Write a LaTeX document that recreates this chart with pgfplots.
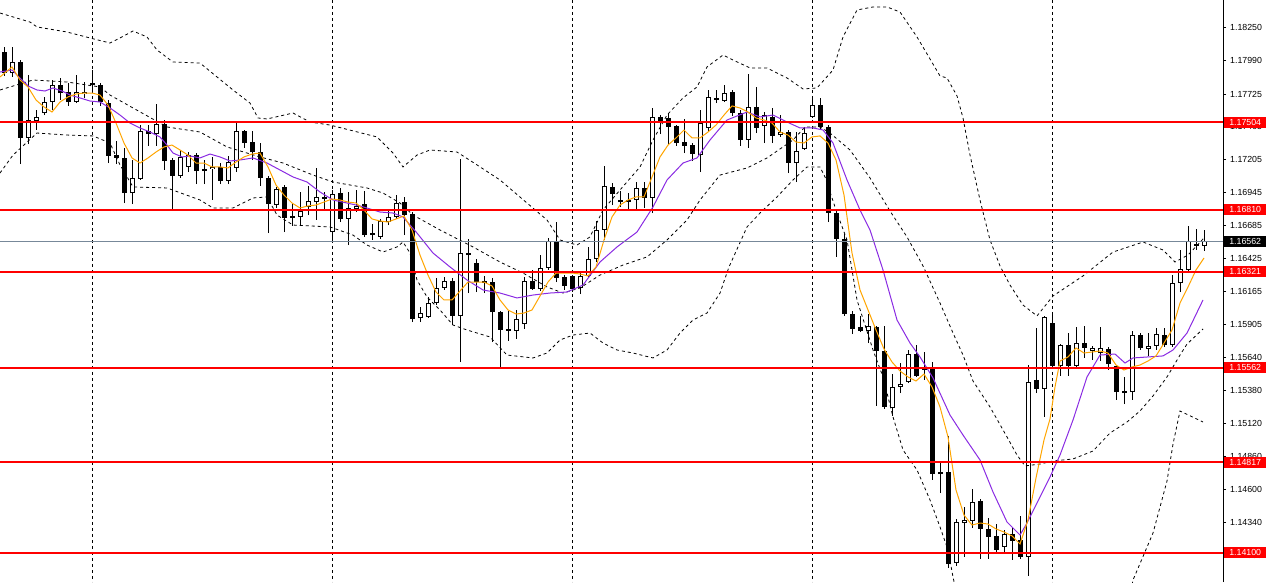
\documentclass[border=0pt]{standalone}
\usepackage{fontspec}
\setmainfont{Liberation Sans}
\usepackage{pgfplots}
\usepackage{pgfplotstable}
\pgfplotsset{compat=1.18}
\definecolor{maorange}{RGB}{255,165,0}
\definecolor{mapurple}{RGB}{138,43,226}
\definecolor{bidgray}{RGB}{119,136,153}
\definecolor{lvlred}{RGB}{255,0,0}

\pgfplotstableread{
x o h l c
1 1.17891 1.18097 1.17860 1.17978
3 1.17378 1.17875 1.17330 1.17520
4 1.17512 1.17599 1.17441 1.17544
5 1.17575 1.17702 1.17559 1.17662
6 1.17662 1.17836 1.17599 1.17796
9 1.17662 1.17875 1.17654 1.17741
10 1.17725 1.17820 1.17694 1.17741
16 1.16943 1.17204 1.16856 1.17062
17 1.17054 1.17480 1.17046 1.17433
19 1.17409 1.17646 1.17315 1.17488
22 1.17078 1.17283 1.17062 1.17228
23 1.17149 1.17267 1.17109 1.17243
26 1.17133 1.17228 1.16888 1.17149
28 1.17038 1.17236 1.17014 1.17188
29 1.17141 1.17496 1.17109 1.17433
34 1.16848 1.16991 1.16825 1.16975
37 1.16754 1.16951 1.16690 1.16801
38 1.16833 1.16999 1.16769 1.16880
39 1.16872 1.17141 1.16730 1.16912
41 1.16635 1.16967 1.16572 1.16935
43 1.16738 1.16951 1.16532 1.16825
44 1.16817 1.16967 1.16793 1.16841
47 1.16596 1.16738 1.16580 1.16722
48 1.16714 1.16801 1.16690 1.16754
49 1.16754 1.16927 1.16738 1.16864
52 1.15956 1.16043 1.15924 1.15995
53 1.15964 1.16122 1.15956 1.16074
54 1.16074 1.16272 1.16058 1.16193
55 1.16193 1.16280 1.16177 1.16248
57 1.15972 1.17212 1.15608 1.16469
64 1.15853 1.16019 1.15790 1.15948
65 1.15908 1.16280 1.15869 1.16248
67 1.16185 1.16453 1.16169 1.16351
68 1.16351 1.16588 1.16335 1.16564
72 1.16193 1.16327 1.16145 1.16288
73 1.16288 1.16517 1.16272 1.16422
74 1.16422 1.16722 1.16398 1.16651
75 1.16651 1.17157 1.16572 1.16999
79 1.16888 1.17030 1.16817 1.16983
81 1.16904 1.17615 1.16785 1.17544
87 1.17243 1.17599 1.17109 1.17496
88 1.17457 1.17757 1.17433 1.17702
90 1.17670 1.17796 1.17662 1.17733
93 1.17362 1.17883 1.17299 1.17623
95 1.17473 1.17583 1.17338 1.17559
97 1.17401 1.17559 1.17386 1.17425
99 1.17180 1.17425 1.17030 1.17275
100 1.17291 1.17465 1.17283 1.17417
101 1.17544 1.17694 1.17536 1.17638
108 1.15853 1.15987 1.15758 1.15893
111 1.15245 1.15513 1.15182 1.15411
112 1.15411 1.15600 1.15363 1.15434
113 1.15450 1.15703 1.15442 1.15671
119 1.14020 1.14368 1.13997 1.14344
120 1.14336 1.14463 1.14068 1.14360
121 1.14352 1.14605 1.14297 1.14502
125 1.14147 1.14281 1.14099 1.14249
128 1.14068 1.15584 1.13918 1.15450
130 1.15395 1.15972 1.15174 1.15964
132 1.15577 1.15750 1.15498 1.15742
134 1.15577 1.15885 1.15553 1.15758
136 1.15695 1.15735 1.15624 1.15719
137 1.15679 1.15885 1.15616 1.15719
141 1.15371 1.15853 1.15308 1.15821
143 1.15711 1.15837 1.15656 1.15735
144 1.15735 1.15877 1.15703 1.15829
146 1.15742 1.16295 1.15727 1.16232
147 1.16232 1.16493 1.16161 1.16343
148 1.16335 1.16683 1.16311 1.16564
150 1.16525 1.16651 1.16485 1.16562
}\bull

\pgfplotstableread{
x o h l c
0 1.18057 1.18097 1.17868 1.17891
2 1.17978 1.17994 1.17172 1.17378
7 1.17796 1.17852 1.17678 1.17733
8 1.17741 1.17812 1.17631 1.17662
11 1.17812 1.17915 1.17757 1.17796
12 1.17796 1.17812 1.17631 1.17662
13 1.17654 1.17678 1.17180 1.17236
14 1.17243 1.17354 1.17172 1.17220
15 1.17220 1.17299 1.16864 1.16943
18 1.17433 1.17480 1.17315 1.17409
20 1.17488 1.17520 1.17125 1.17196
21 1.17204 1.17220 1.16809 1.17078
24 1.17243 1.17259 1.17014 1.17117
25 1.17133 1.17204 1.17014 1.17117
27 1.17149 1.17180 1.17014 1.17038
30 1.17433 1.17441 1.17299 1.17338
31 1.17346 1.17433 1.17204 1.17267
32 1.17267 1.17338 1.16999 1.17062
33 1.17062 1.17078 1.16627 1.16856
35 1.16991 1.17006 1.16635 1.16746
36 1.16762 1.16856 1.16683 1.16746
40 1.16912 1.16951 1.16809 1.16896
42 1.16943 1.16983 1.16714 1.16738
45 1.16856 1.16959 1.16596 1.16611
46 1.16627 1.16698 1.16572 1.16611
50 1.16872 1.16912 1.16611 1.16769
51 1.16777 1.16793 1.15924 1.15948
56 1.16248 1.16272 1.15900 1.15972
58 1.16469 1.16580 1.16153 1.16453
59 1.16390 1.16422 1.16161 1.16240
60 1.16248 1.16288 1.16153 1.16232
61 1.16240 1.16272 1.15766 1.16003
62 1.16003 1.16011 1.15569 1.15861
63 1.15869 1.16011 1.15774 1.15853
66 1.16248 1.16335 1.16177 1.16185
69 1.16556 1.16714 1.16240 1.16272
70 1.16280 1.16295 1.16177 1.16209
71 1.16288 1.16295 1.16161 1.16185
76 1.16991 1.17022 1.16848 1.16935
77 1.16888 1.16959 1.16833 1.16872
78 1.16888 1.16943 1.16809 1.16872
80 1.16983 1.17030 1.16825 1.16904
82 1.17544 1.17559 1.17409 1.17512
83 1.17536 1.17567 1.17322 1.17465
84 1.17473 1.17480 1.17315 1.17338
85 1.17346 1.17528 1.17259 1.17315
86 1.17322 1.17338 1.17196 1.17251
89 1.17694 1.17757 1.17654 1.17678
91 1.17741 1.17757 1.17552 1.17575
92 1.17575 1.17599 1.17315 1.17362
94 1.17623 1.17781 1.17417 1.17457
96 1.17544 1.17615 1.17338 1.17394
98 1.17425 1.17441 1.17101 1.17180
102 1.17638 1.17694 1.17449 1.17465
103 1.17465 1.17480 1.16714 1.16785
104 1.16785 1.16809 1.16438 1.16580
105 1.16580 1.16619 1.15972 1.15987
106 1.15987 1.16011 1.15829 1.15869
107 1.15885 1.15972 1.15845 1.15853
109 1.15885 1.15893 1.15261 1.15695
110 1.15695 1.15893 1.15237 1.15253
114 1.15671 1.15742 1.15490 1.15498
115 1.15561 1.15687 1.15466 1.15545
116 1.15569 1.15608 1.14676 1.14723
117 1.14739 1.14810 1.14573 1.14723
118 1.14739 1.15024 1.13981 1.14012
122 1.14510 1.14526 1.14052 1.14289
123 1.14289 1.14376 1.14052 1.14226
124 1.14234 1.14328 1.14099 1.14123
126 1.14249 1.14305 1.14044 1.14194
127 1.14202 1.14392 1.14052 1.14068
129 1.15466 1.15877 1.15363 1.15395
131 1.15916 1.15979 1.15561 1.15577
133 1.15742 1.15837 1.15498 1.15577
135 1.15758 1.15893 1.15640 1.15719
138 1.15711 1.15727 1.15545 1.15592
139 1.15577 1.15584 1.15308 1.15371
140 1.15379 1.15490 1.15276 1.15363
142 1.15821 1.15837 1.15703 1.15719
145 1.15821 1.15877 1.15727 1.15742
149 1.16540 1.16659 1.16493 1.16525
}\bear

\pgfplotstableread{
x y
-0.5 1.17860
1 1.17939
2 1.17836
3 1.17781
4 1.17678
5 1.17623
6 1.17583
7 1.17662
8 1.17702
9 1.17725
10 1.17733
11 1.17733
12 1.17717
13 1.17638
14 1.17496
15 1.17338
16 1.17220
17 1.17180
18 1.17220
19 1.17267
20 1.17307
21 1.17322
22 1.17283
23 1.17243
24 1.17180
25 1.17180
26 1.17149
27 1.17149
28 1.17141
29 1.17188
30 1.17228
31 1.17251
32 1.17259
33 1.17149
34 1.17006
35 1.16927
36 1.16864
37 1.16825
38 1.16841
39 1.16848
40 1.16872
41 1.16896
42 1.16888
43 1.16872
44 1.16864
45 1.16809
46 1.16738
47 1.16722
48 1.16714
49 1.16738
50 1.16762
51 1.16651
52 1.16453
53 1.16295
54 1.16161
55 1.16098
56 1.16098
57 1.16169
58 1.16240
59 1.16240
60 1.16240
61 1.16209
62 1.16098
63 1.16019
64 1.15987
65 1.15995
66 1.16019
67 1.16130
68 1.16240
69 1.16311
70 1.16311
71 1.16311
72 1.16303
73 1.16288
74 1.16359
75 1.16572
76 1.16754
77 1.16848
78 1.16888
79 1.16912
80 1.16912
81 1.17070
82 1.17228
83 1.17322
84 1.17378
85 1.17441
86 1.17378
87 1.17378
88 1.17425
89 1.17480
90 1.17559
91 1.17631
92 1.17615
93 1.17583
94 1.17536
95 1.17520
96 1.17496
97 1.17425
98 1.17401
99 1.17346
100 1.17338
101 1.17386
102 1.17394
103 1.17338
104 1.17204
105 1.16927
106 1.16469
107 1.16177
108 1.16019
109 1.15861
110 1.15711
111 1.15608
112 1.15537
113 1.15490
114 1.15458
115 1.15513
116 1.15411
117 1.15253
118 1.15016
119 1.14597
120 1.14399
121 1.14320
122 1.14336
123 1.14328
124 1.14289
125 1.14265
126 1.14234
127 1.14170
128 1.14360
129 1.14692
130 1.14992
130.75 1.15158
131.375 1.15411
132 1.15616
133 1.15648
134 1.15719
135 1.15679
136 1.15687
137 1.15695
138 1.15679
139 1.15584
140 1.15545
141 1.15569
142 1.15584
143 1.15616
144 1.15656
145 1.15758
146 1.15861
147 1.16074
148 1.16201
149 1.16335
150 1.16430
}\fastma

\pgfplotstableread{
x y
-0.5 1.17899
1 1.17915
2 1.17852
3 1.17789
4.125 1.17757
5.125 1.17749
6.125 1.17773
7.25 1.17749
8.25 1.17717
9.5 1.17694
10.75 1.17670
12 1.17662
13.25 1.17615
14.5 1.17559
15.75 1.17496
17 1.17457
18.25 1.17425
19.5 1.17386
20.375 1.17322
21.125 1.17259
22.25 1.17228
23.25 1.17236
24.5 1.17220
25.75 1.17251
27 1.17228
28.25 1.17196
29.5 1.17204
31.125 1.17220
32.875 1.17180
34.5 1.17125
36.125 1.17070
37.875 1.17030
39.5 1.16951
41.125 1.16888
42.875 1.16864
44.5 1.16841
47 1.16793
48.625 1.16785
49.875 1.16754
51.625 1.16627
53.625 1.16469
55.75 1.16359
57.875 1.16256
59.875 1.16177
62 1.16153
64.125 1.16114
66.125 1.16137
68.25 1.16153
70.375 1.16161
72.375 1.16216
74.5 1.16398
76.625 1.16517
79.125 1.16635
81.125 1.16833
82.875 1.17046
84.875 1.17180
86.625 1.17220
88.25 1.17362
90.375 1.17520
92.875 1.17583
94.5 1.17544
96.125 1.17559
97.875 1.17504
99.5 1.17457
101.125 1.17457
102.375 1.17441
103.625 1.17338
105.375 1.17046
107 1.16809
108.25 1.16651
109.875 1.16335
111.625 1.15940
113.25 1.15758
114.5 1.15648
116.125 1.15482
118.25 1.15189
119.875 1.15031
122 1.14834
123.625 1.14581
125.375 1.14344
127 1.14241
127.875 1.14336
129.125 1.14494
130.75 1.14700
132 1.14873
133.625 1.15150
135.375 1.15490
137 1.15663
138.875 1.15671
140.125 1.15600
141.125 1.15640
144.875 1.15656
146.125 1.15703
147.875 1.15837
149.875 1.16098
}\slowma

\pgfplotstableread{
x y
-0.5 1.18365
3.25 1.18294
4.125 1.18255
7.875 1.18215
10.75 1.18168
13.25 1.18128
14.5 1.18168
16.125 1.18223
17.875 1.18176
19.125 1.18073
21.125 1.17978
24.5 1.17970
26.625 1.17860
28.625 1.17757
30.75 1.17654
31.75 1.17536
32.875 1.17528
36.125 1.17575
38.25 1.17504
40.75 1.17480
46.625 1.17386
48.625 1.17259
49.875 1.17149
51.625 1.17243
53.25 1.17283
56.625 1.17267
59.125 1.17165
62 1.17046
65.375 1.16864
67.875 1.16730
69.5 1.16572
71.625 1.16532
73.25 1.16596
74.875 1.16809
77 1.16967
79.5 1.17149
81.125 1.17362
82.875 1.17559
84.875 1.17694
86.625 1.17781
87.875 1.17939
89.875 1.18033
91.125 1.17994
93.25 1.17931
95.375 1.17931
97.875 1.17852
99.875 1.17765
101.625 1.17773
103.625 1.17915
104.875 1.18176
106.625 1.18389
108.625 1.18413
110.375 1.18413
112 1.18373
114.125 1.18176
115.75 1.18002
117 1.17868
117.875 1.17852
119.125 1.17710
119.875 1.17536
120.75 1.17243
122 1.16888
123.25 1.16572
124.5 1.16367
125.75 1.16216
127.375 1.16058
129.125 1.15972
131.125 1.16130
134.875 1.16288
138.625 1.16477
142.375 1.16556
144.875 1.16493
146.375 1.16398
148 1.16453
150 1.16588
}\bbup

\pgfplotstableread{
x y
-0.5 1.17757
3.625 1.17836
7.875 1.17820
12 1.17781
13.25 1.17717
16.125 1.17615
20.375 1.17465
24.5 1.17425
27.875 1.17307
32 1.17228
34.875 1.17180
38.625 1.17085
41.125 1.17030
45.375 1.16983
47.375 1.16943
49.5 1.16864
51.125 1.16769
54.5 1.16651
58.625 1.16517
62 1.16398
64.875 1.16311
67.875 1.16201
69.875 1.16153
72 1.16193
74.5 1.16295
77.375 1.16374
80.375 1.16438
82.875 1.16572
85.375 1.16730
87 1.16888
89.5 1.17085
92.875 1.17141
95.375 1.17220
98.625 1.17362
100.125 1.17465
102 1.17465
103.25 1.17417
105.75 1.17283
108.25 1.17062
110.75 1.16801
112.875 1.16596
114.875 1.16367
117 1.16074
118.625 1.15837
119.875 1.15663
121.125 1.15458
123.25 1.15253
125.375 1.15016
126.625 1.14873
127.625 1.14787
129.5 1.14802
131.125 1.14826
133.625 1.14842
136.125 1.14905
138.25 1.15047
140.375 1.15134
142 1.15221
143.625 1.15340
145.375 1.15490
147 1.15663
147.875 1.15750
149.875 1.15869
}\bbmid

\pgfplotstableread{
x y
-0.5 1.17101
1.125 1.17243
4.125 1.17417
7.875 1.17401
11.125 1.17394
13.25 1.17338
14.5 1.17165
16.125 1.16991
20.375 1.16983
24.5 1.16888
26.125 1.16825
28.625 1.16825
31.125 1.16904
32.875 1.16912
34.125 1.16769
36.125 1.16690
40.75 1.16675
43.625 1.16611
45.375 1.16532
47.375 1.16477
49.125 1.16517
49.875 1.16556
50.75 1.16469
51.625 1.16256
52.875 1.16122
54.5 1.16019
56.125 1.15900
57.875 1.15861
60.75 1.15806
62.875 1.15663
66.125 1.15640
67.875 1.15679
69.5 1.15782
71.125 1.15821
73.25 1.15837
74.875 1.15758
76.625 1.15703
78.625 1.15679
81.125 1.15640
82.875 1.15703
84.5 1.15837
86.125 1.15940
87.875 1.15995
89.5 1.16153
90.625 1.16359
92.875 1.16675
94.5 1.16785
96.625 1.16912
98.625 1.17046
100.375 1.17149
102 1.17149
102.625 1.17070
104.125 1.16785
105.375 1.16572
106.625 1.16098
108.625 1.15703
109.875 1.15490
111.125 1.15174
112.375 1.14913
114.125 1.14755
115.75 1.14518
117 1.14305
118 1.14123
118.625 1.13910
119.25 1.13728
}\bblow

\pgfplotstableread{
x y
140.125 1.13570
141.125 1.13886
143.625 1.14257
145.375 1.14668
146.125 1.14960
147 1.15221
149.875 1.15134
}\bblowb

\begin{document}
\begin{tikzpicture}
\useasboundingbox (0,0) rectangle (1269pt,582pt);
\begin{axis}[
  at={(0pt,0pt)}, anchor=south west,
  scale only axis, width=1223pt, height=582pt,
  xmin=-0.5, xmax=152.375, ymin=1.13870, ymax=1.18468,
  axis x line=none, axis y line=right,
  y axis line style={-, black, line width=1pt},
  ytick={1.14080,1.14340,1.14600,1.14860,1.15120,1.15380,1.15640,1.15905,1.16165,1.16425,1.16685,1.16945,1.17205,1.17465,1.17725,1.17990,1.18250},
  yticklabels={1.14080,1.14340,1.14600,1.14860,1.15120,1.15380,1.15640,1.15905,1.16165,1.16425,1.16685,1.16945,1.17205,1.17465,1.17725,1.17990,1.18250},
  tick align=outside, major tick length=3pt,
  ytick style={black, line width=1pt},
  yticklabel style={font=\fontsize{8.8}{10}\selectfont, anchor=west, inner sep=0pt, xshift=4pt},
  clip=true,
]
% vertical period separators
\addplot[black, line width=1pt, dash pattern=on 3pt off 3pt] coordinates {(11,1.18468) (11,1.13870)};
\addplot[black, line width=1pt, dash pattern=on 3pt off 3pt] coordinates {(41,1.18468) (41,1.13870)};
\addplot[black, line width=1pt, dash pattern=on 3pt off 3pt] coordinates {(71,1.18468) (71,1.13870)};
\addplot[black, line width=1pt, dash pattern=on 3pt off 3pt] coordinates {(101,1.18468) (101,1.13870)};
\addplot[black, line width=1pt, dash pattern=on 3pt off 3pt] coordinates {(131,1.18468) (131,1.13870)};

% wicks
\addplot[draw=none, mark=none, error bars/.cd, y dir=plus, y explicit, error mark=none,
  error bar style={draw=black, line width=1pt}]
  table[x=x, y=l, y error expr=\thisrow{h}-\thisrow{l}] {\bull};
\addplot[draw=none, mark=none, error bars/.cd, y dir=plus, y explicit, error mark=none,
  error bar style={draw=black, line width=1pt}]
  table[x=x, y=l, y error expr=\thisrow{h}-\thisrow{l}] {\bear};
% bodies
\addplot[draw=none, mark=none, error bars/.cd, y dir=plus, y explicit, error mark=none,
  error bar style={draw=black, line width=5pt}]
  table[x=x, y=c, y error expr=\thisrow{o}-\thisrow{c}] {\bear};
\addplot[draw=none, mark=none, error bars/.cd, y dir=plus, y explicit, error mark=none,
  error bar style={draw=black, line width=5pt}]
  table[x=x, y=o, y error expr=\thisrow{c}-\thisrow{o}] {\bull};
\addplot[draw=none, mark=none, error bars/.cd, y dir=plus, y explicit, error mark=none,
  error bar style={draw=white, line width=3pt, shorten <=1pt, shorten >=1pt}]
  table[x=x, y=o, y error expr=\thisrow{c}-\thisrow{o}] {\bull};

% bands
\addplot[black, line width=0.8pt, dash pattern=on 3pt off 3pt] table {\bbup};
\addplot[black, line width=0.8pt, dash pattern=on 3pt off 3pt] table {\bbmid};
\addplot[black, line width=0.8pt, dash pattern=on 3pt off 3pt] table {\bblow};
\addplot[black, line width=0.8pt, dash pattern=on 3pt off 3pt] table {\bblowb};
% moving averages
\addplot[mapurple, line width=1pt] table {\slowma};
\addplot[maorange, line width=1pt] table {\fastma};

% levels
\addplot[bidgray, line width=1pt] coordinates {(-0.5,1.16562) (152.375,1.16562)};
\addplot[lvlred, line width=2pt] coordinates {(-0.5,1.17504) (152.375,1.17504)};
\addplot[lvlred, line width=2pt] coordinates {(-0.5,1.16810) (152.375,1.16810)};
\addplot[lvlred, line width=2pt] coordinates {(-0.5,1.16321) (152.375,1.16321)};
\addplot[lvlred, line width=2pt] coordinates {(-0.5,1.15562) (152.375,1.15562)};
\addplot[lvlred, line width=2pt] coordinates {(-0.5,1.14817) (152.375,1.14817)};
\addplot[lvlred, line width=2pt] coordinates {(-0.5,1.14100) (152.375,1.14100)};

\coordinate (Ra) at (axis cs:152.375,1.17504);
\coordinate (Rb) at (axis cs:152.375,1.16810);
\coordinate (Rc) at (axis cs:152.375,1.16321);
\coordinate (Rd) at (axis cs:152.375,1.15562);
\coordinate (Re) at (axis cs:152.375,1.14817);
\coordinate (Rf) at (axis cs:152.375,1.14100);
\coordinate (Rg) at (axis cs:152.375,1.16562);
\end{axis}
\tikzset{pricebox/.style={anchor=west, text=white, inner sep=0pt, minimum width=42pt, minimum height=11pt, font=\fontsize{8.8}{10}\selectfont}}
\node[pricebox, fill=lvlred] at ([xshift=1pt]Ra) {1.17504};
\node[pricebox, fill=lvlred] at ([xshift=1pt]Rb) {1.16810};
\node[pricebox, fill=lvlred] at ([xshift=1pt]Rc) {1.16321};
\node[pricebox, fill=lvlred] at ([xshift=1pt]Rd) {1.15562};
\node[pricebox, fill=lvlred] at ([xshift=1pt]Re) {1.14817};
\node[pricebox, fill=lvlred] at ([xshift=1pt]Rf) {1.14100};
\node[pricebox, fill=black] at ([xshift=1pt]Rg) {1.16562};
\end{tikzpicture}
\end{document}
